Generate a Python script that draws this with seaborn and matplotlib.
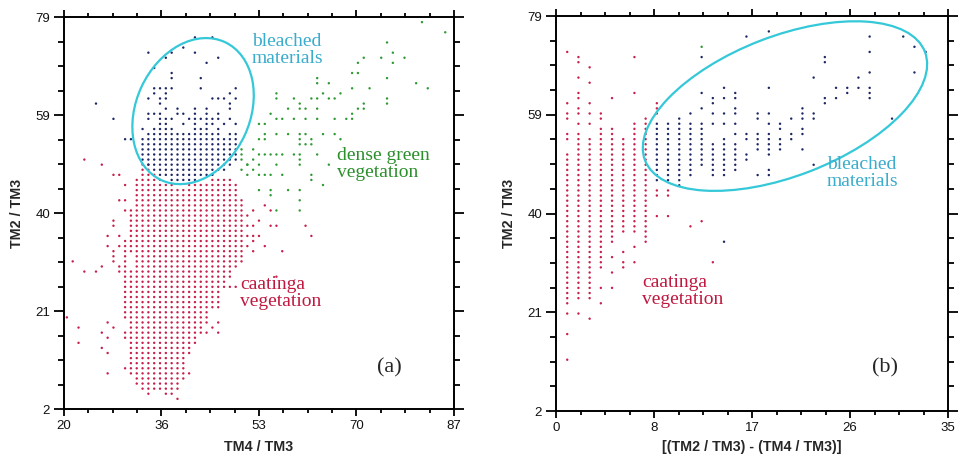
import numpy as np
import pandas as pd
import matplotlib
matplotlib.use("Agg")
import matplotlib.pyplot as plt
import seaborn as sns
from matplotlib.patches import Ellipse
from matplotlib.ticker import AutoMinorLocator

# ------------------------------------------------------------------ data
# Values lie on a grid; a column is written as x -> list of (y_low, y_high)
# integer runs in which every integer y carries a point.

# ---- panel (a): TM4/TM3 (x) vs TM2/TM3 (y)
a_red_runs = {
    29.5: [(29, 30)], 30.5: [(20, 35)], 31.5: [(9, 29), (33, 41)],
    32.5: [(7, 47)], 33.5: [(6, 50)], 34.5: [(5, 50)], 35.5: [(6, 48)],
    36.5: [(6, 47)], 37.5: [(5, 46)], 38.5: [(5, 46)], 39.5: [(6, 45)],
    40.5: [(8, 45)], 41.5: [(13, 46)], 42.5: [(15, 46)], 43.5: [(17, 46)],
    44.5: [(19, 46)], 45.5: [(22, 47)], 46.5: [(22, 47)], 47.5: [(26, 47)],
    48.5: [(28, 47)], 49.5: [(30, 46)], 50.5: [(31, 43)],
}
a_red_extra_x = [21.5, 23.5, 25.5, 20.5, 22.5, 22.5, 26.5, 27.5, 27.5, 28.5,
                 26.5, 27.5, 26.5, 27.5, 23.5, 26.5, 28.5, 29.5, 30.5, 29.5,
                 30.5, 30.5, 28.5, 28.5, 27.5, 29.5, 27.5, 29.5, 28.5, 28.5,
                 28.5, 51.5, 52.5, 52.5, 53.5, 54.5, 55.5, 55.5, 56.5, 61.5,
                 62.5, 52.5, 53.5, 52.5, 54.5, 57.5, 52.5, 56.5, 51.5, 51.5,
                 51.5, 45.5, 46.5, 46.5, 44.5, 48.5, 49.5, 30.5, 41.5, 39.5,
                 30.5, 30.5]
a_red_extra_y = [31, 29, 29, 20, 18, 15, 17, 19, 16, 18,
                 14, 9, 30, 13, 51, 50, 48, 48, 46, 43,
                 43, 41, 39, 38, 36, 36, 34, 34, 33, 32,
                 31, 40, 41, 38, 39, 42, 41, 38, 38, 38,
                 36, 36, 36, 35, 34, 33, 33, 28, 34, 36,
                 38, 18, 19, 17, 17, 26, 26, 10, 9, 4,
                 16, 17]

a_blue_runs = {
    33.5: [(51, 55)], 34.5: [(50, 56)], 35.5: [(49, 56)], 36.5: [(48, 57)],
    37.5: [(48, 57)], 38.5: [(47, 56)], 39.5: [(47, 56)], 40.5: [(47, 56)],
    41.5: [(47, 56)], 42.5: [(47, 57)], 43.5: [(48, 56)], 44.5: [(48, 57)],
    45.5: [(48, 56)], 46.5: [(49, 56)], 47.5: [(49, 55)], 48.5: [(50, 56)],
    49.5: [(51, 56)],
}
a_blue_extra_x = [34.5, 37.5, 38.5, 40.5, 42.5, 45.5, 42.5, 44.5, 46.5, 35.5,
                  38.5, 38.5, 43.5,
                  35.5, 36.5, 37.5, 38.5, 43.5, 49.5,
                  35.5, 37.5, 48.5,
                  34.5, 36.5, 37.5, 45.5, 46.5, 47.5, 49.5,
                  36.5, 48.5,
                  37.5, 39.5, 42.5, 44.5, 48.5,
                  34.5, 35.5, 36.5, 39.5, 40.5, 42.5, 44.5, 46.5,
                  34.5, 36.5, 37.5, 38.5, 41.5, 42.5, 43.5, 44.5, 45.5, 46.5, 48.5,
                  36.5, 37.5, 40.5, 42.5, 44.5, 45.5, 47.5, 49.5,
                  33.5, 35.5, 38.5, 43.5, 46.5,
                  25.5, 28.5, 30.5, 31.5]
a_blue_extra_y = [72, 71, 72, 73, 75, 75, 72, 70, 71, 69,
                  68, 67, 67,
                  65, 65, 65, 65, 65, 65,
                  64, 64, 64,
                  63, 63, 63, 63, 63, 63, 63,
                  62, 62,
                  61, 61, 61, 61, 61,
                  60, 60, 60, 60, 60, 60, 60, 60,
                  59, 59, 59, 59, 59, 59, 59, 59, 59, 59, 59,
                  58, 58, 58, 58, 58, 58, 58, 58,
                  57, 57, 57, 57, 57,
                  62, 59, 55, 55]

a_green_x = [81.5, 85.5, 75.5, 76.5, 74.5, 76.5, 78.5, 71.5, 70.5, 69.5,
             70.5, 63.5, 63.5, 65.5, 75.5, 80.5, 82.5, 69.5, 72.5, 56.5,
             56.5, 62.5, 63.5, 64.5, 65.5, 66.5, 67.5, 75.5, 75.5, 59.5,
             58.5, 60.5, 60.5, 61.5, 63.5, 70.5, 71.5, 71.5, 69.5, 69.5,
             68.5, 55.5, 53.5, 54.5, 56.5, 57.5, 59.5, 61.5, 63.5, 66.5,
             54.5, 56.5, 58.5, 60.5, 61.5, 64.5, 66.5, 67.5, 52.5, 53.5,
             54.5, 60.5, 60.5, 61.5, 62.5, 62.5, 50.5, 53.5, 54.5, 55.5,
             56.5, 57.5, 59.5, 60.5, 63.5, 65.5, 50.5, 51.5, 52.5, 50.5,
             51.5, 60.5, 60.5, 62.5, 62.5, 64.5, 53.5, 55.5, 58.5, 60.5,
             60.5, 60.5, 53.5, 54.5, 55.5, 56.5, 57.5, 51.5, 53.5, 56.5,
             55.5, 50.5, 52.5]
a_green_y = [78, 76, 74, 72, 71, 70, 71, 71, 70, 68,
             68, 67, 66, 66, 67, 66, 65, 65, 65, 64,
             63, 63, 63, 64, 63, 63, 64, 63, 62, 63,
             61, 62, 61, 61, 61, 61, 62, 61, 60, 59,
             59, 60, 58, 58, 59, 59, 59, 59, 59, 59,
             56, 56, 56, 56, 56, 56, 56, 55, 53, 55,
             55, 55, 54, 54, 54, 55, 53, 52, 52, 52,
             52, 52, 52, 52, 52, 50, 51, 50, 49, 49,
             48, 51, 50, 48, 47, 46, 45, 45, 45, 45,
             43, 41, 48, 48, 48, 50, 48, 50, 50, 41,
             44, 52, 51]

# ---- panel (b): [(TM2/TM3) - (TM4/TM3)] (x) vs TM2/TM3 (y)
b_red_runs = {
    1: [(23, 52), (55, 56), (59, 60)], 2: [(24, 56), (60, 61), (63, 64)],
    3: [(24, 55)], 4: [(30, 57)], 5: [(35, 57)], 6: [(37, 55)],
    7: [(37, 58)], 8: [(35, 59)],
}
b_red_extra_x = [1, 1, 1, 1, 1, 2, 2, 2, 2, 2, 3, 3, 3, 3, 3, 3, 4, 4, 5, 5,
                 5, 5, 6, 6, 6, 7, 7, 7, 7, 9, 9, 9, 9, 9, 9, 10, 10, 10, 12,
                 13, 14, 4, 4]
b_red_extra_y = [21, 17, 12, 62, 72, 21, 58, 67, 70, 71, 20, 58, 60, 62, 66,
                 69, 26, 23, 32, 29, 26, 63, 30, 31, 33, 34, 31, 64, 71, 40,
                 44, 45, 60, 61, 62, 40, 44, 45, 38, 39, 31, 59, 60]

b_blue_runs = {
    9: [(47, 58)], 10: [(47, 58)], 11: [(46, 59)], 12: [(48, 58), (60, 60)],
    13: [(50, 58), (61, 61), (64, 64)],
    14: [(48, 54), (58, 58), (60, 60), (62, 63)],
    15: [(48, 55), (58, 58), (60, 60), (63, 63), (65, 65)],
    16: [(49, 54), (56, 56), (58, 58), (60, 61), (63, 64)],
    17: [(51, 52), (55, 56)], 18: [(48, 48), (53, 56), (59, 60)],
    19: [(48, 49), (52, 56), (58, 58), (60, 60), (65, 65)],
    20: [(53, 55), (57, 58)], 21: [(55, 56), (59, 59)],
    22: [(53, 53), (56, 57), (59, 61)], 23: [(50, 50), (59, 60), (67, 67)],
    24: [(62, 63), (70, 71)], 25: [(63, 63), (65, 65)], 26: [(64, 65)],
    27: [(65, 65), (67, 67)], 28: [(63, 65), (68, 68), (72, 72)],
}
b_blue_extra_x = [17, 19, 28, 30, 31, 32, 32, 33, 15, 13]
b_blue_extra_y = [75, 76, 75, 59, 75, 73, 68, 72, 35, 71]

b_green_x = [13]
b_green_y = [73]

# axis ticks
a_xtick_labels = ["20", "36", "53", "70", "87"]
b_xtick_labels = ["0", "8", "17", "26", "35"]
ytick_labels = ["2", "21", "40", "59", "79"]
a_xlim, b_xlim, ylim = (20, 87), (0, 35), (2, 79)


# ------------------------------------------------------------------ build
def expand(cls, runs, ex_x, ex_y):
    rows = []
    for x, segs in runs.items():
        for lo, hi in segs:
            for y in range(lo, hi + 1):
                rows.append((x, y, cls))
    rows += [(x, y, cls) for x, y in zip(ex_x, ex_y)]
    return rows


dfA = pd.DataFrame(
    expand("caatinga", a_red_runs, a_red_extra_x, a_red_extra_y)
    + expand("green", {}, a_green_x, a_green_y)
    + expand("bleached", a_blue_runs, a_blue_extra_x, a_blue_extra_y),
    columns=["x", "y", "cls"])
dfB = pd.DataFrame(
    expand("caatinga", b_red_runs, b_red_extra_x, b_red_extra_y)
    + expand("green", {}, b_green_x, b_green_y)
    + expand("bleached", b_blue_runs, b_blue_extra_x, b_blue_extra_y),
    columns=["x", "y", "cls"])

sns.set_theme(style="white")
plt.rcParams['font.family'] = ['Liberation Sans', 'DejaVu Sans']

palette = {"caatinga": "#c8204c", "bleached": "#1d2766", "green": "#2f9a33"}
RED_T, GREEN_T, CYAN_T, ELL = "#c0183f", "#2b8f2b", "#3aaccc", "#35c8d8"
SERIF = ['Liberation Serif', 'DejaVu Serif']

fig = plt.figure(figsize=(9.62, 4.54), dpi=100)
axA = fig.add_axes([0.0665, 0.0991, 0.4054, 0.8634])
axB = fig.add_axes([0.578, 0.0947, 0.4075, 0.870])

for ax, df, xlim, xlabs in ((axA, dfA, a_xlim, a_xtick_labels),
                            (axB, dfB, b_xlim, b_xtick_labels)):
    sns.scatterplot(data=df, x="x", y="y", hue="cls", palette=palette,
                    marker="o", s=3.0, linewidth=0, legend=False, ax=ax)
    ax.set_xlim(*xlim)
    ax.set_ylim(*ylim)
    ax.set_xticks(np.linspace(xlim[0], xlim[1], 5))
    ax.set_xticklabels(xlabs)
    ax.set_yticks(np.linspace(ylim[0], ylim[1], 5))
    ax.set_yticklabels(ytick_labels)
    ax.xaxis.set_minor_locator(AutoMinorLocator(4))
    ax.yaxis.set_minor_locator(AutoMinorLocator(4))
    ax.tick_params(which="both", direction="out", top=True, right=True,
                   bottom=True, left=True, labeltop=False, labelright=False,
                   color="black", width=1.3, labelsize=9.5, labelcolor="#111111")
    ax.tick_params(axis="x", which="major", length=5, pad=3)
    ax.tick_params(axis="x", which="minor", length=3)
    ax.tick_params(axis="y", which="major", length=7, pad=3)
    ax.tick_params(axis="y", which="minor", length=4)
    for sp in ax.spines.values():
        sp.set_color("black")
        sp.set_linewidth(1.4)
        sp.set_visible(True)
    ax.set_ylabel("TM2 / TM3", fontsize=10.3, fontweight="bold", labelpad=8)
    ax.grid(False)

axA.set_xlabel("TM4 / TM3", fontsize=10.3, fontweight="bold", labelpad=6)
axB.set_xlabel("[(TM2 / TM3) - (TM4 / TM3)]", fontsize=10.3,
               fontweight="bold", labelpad=4)

# ellipses (axes-fraction geometry)
axA.add_patch(Ellipse((0.331, 0.760), 0.292, 0.388, angle=-25,
                      transform=axA.transAxes, fill=False, ec=ELL, lw=1.6))
axB.add_patch(Ellipse((0.584, 0.772), 0.765, 0.354, angle=21,
                      transform=axB.transAxes, fill=False, ec=ELL, lw=1.6))

# annotations
tkw = dict(fontsize=14, family=SERIF, va="top", ha="left", linespacing=1.0)
axA.text(0.482, 0.958, "bleached\nmaterials", color=CYAN_T,
         transform=axA.transAxes, **tkw)
axA.text(0.700, 0.668, "dense green\nvegetation", color=GREEN_T,
         transform=axA.transAxes, **tkw)
axA.text(0.451, 0.340, "caatinga\nvegetation", color=RED_T,
         transform=axA.transAxes, **tkw)
axA.text(0.803, 0.105, "(a)", fontsize=16, family=SERIF, va="center",
         ha="left", transform=axA.transAxes)

axB.text(0.691, 0.645, "bleached\nmaterials", color=CYAN_T,
         transform=axB.transAxes, **tkw)
axB.text(0.219, 0.347, "caatinga\nvegetation", color=RED_T,
         transform=axB.transAxes, **tkw)
axB.text(0.806, 0.109, "(b)", fontsize=16, family=SERIF, va="center",
         ha="left", transform=axB.transAxes)

fig.savefig("out.png", dpi=100, facecolor="white")
